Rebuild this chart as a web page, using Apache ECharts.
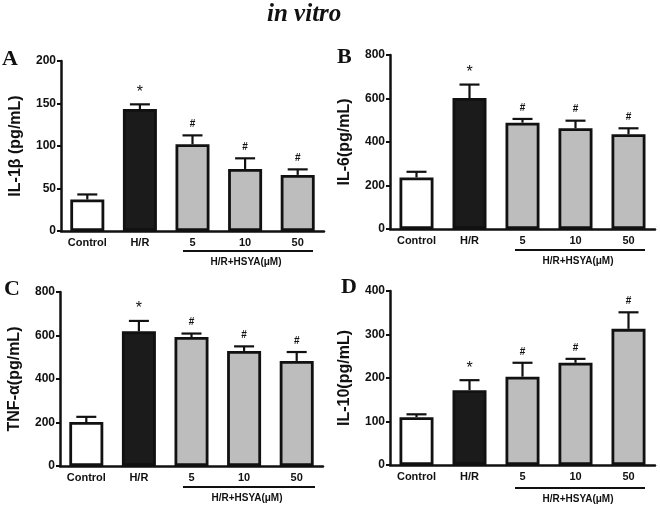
<!DOCTYPE html>
<html>
<head>
    <meta charset="utf-8">
    <title>in vitro</title>
    <script src="https://cdn.jsdelivr.net/npm/echarts@6/dist/echarts.min.js"></script>
    <style>
        html, body { margin: 0; padding: 0; background: #fff; }
        #main { width: 660px; height: 507px; }
    </style>
</head>
<body>
    <div id="main"></div>
    <script>
        // groups on the x axis
        var categories = ['Control', 'H/R', '5', '10', '50'];
        var marks = ['', '*', '#', '#', '#'];
        var barColors = ['#ffffff', '#1b1b1b', '#bdbdbd', '#bdbdbd', '#bdbdbd'];

        // A: IL-1beta (mean, error)
        var il1bMean = [37, 143.5, 102, 73, 66];
        var il1bErr = [6, 5.5, 10.5, 12.5, 6.5];
        // B: IL-6
        var il6Mean = [237, 602, 489, 463, 436];
        var il6Err = [26, 62, 17, 35, 27];
        // C: TNF-alpha
        var tnfMean = [202, 619, 593, 529, 483];
        var tnfErr = [24, 48, 16, 21, 41];
        // D: IL-10
        var il10Mean = [110, 172, 203, 235, 313];
        var il10Err = [6.5, 23, 32, 9, 38];

        var panels = [
            { name: 'IL-1β (pg/mL)', mean: il1bMean, err: il1bErr, max: 200, interval: 50 },
            { name: 'IL-6(pg/mL)', mean: il6Mean, err: il6Err, max: 800, interval: 200 },
            { name: 'TNF-α(pg/mL)', mean: tnfMean, err: tnfErr, max: 800, interval: 200 },
            { name: 'IL-10(pg/mL)', mean: il10Mean, err: il10Err, max: 400, interval: 100 }
        ];

        var grids = [
            { left: 61, top: 61, width: 263, height: 170 },
            { left: 390, top: 55, width: 265, height: 174 },
            { left: 60, top: 292, width: 263, height: 174 },
            { left: 390, top: 291, width: 265, height: 174 }
        ];

        var font = 'Arial, "Liberation Sans", sans-serif';
        var xAxes = [], yAxes = [], series = [];

        panels.forEach(function (p, k) {
            xAxes.push({
                type: 'category',
                gridIndex: k,
                data: categories,
                axisLine: { lineStyle: { color: '#111', width: 2.5 } },
                axisTick: { alignWithLabel: true, length: 4, lineStyle: { color: '#111', width: 2 } },
                axisLabel: { color: '#111', fontWeight: 'bold', fontSize: 11, fontFamily: font, margin: 6 }
            });
            yAxes.push({
                type: 'value',
                gridIndex: k,
                min: 0,
                max: p.max,
                interval: p.interval,
                name: p.name,
                nameLocation: 'middle',
                nameRotate: 90,
                nameGap: 37,
                nameTextStyle: { color: '#111', fontWeight: 'bold', fontSize: 16, fontFamily: font },
                splitLine: { show: false },
                axisLine: { show: true, lineStyle: { color: '#111', width: 2.5 } },
                axisTick: { show: true, length: 4, lineStyle: { color: '#111', width: 2 } },
                axisLabel: { color: '#111', fontWeight: 'bold', fontSize: 12, fontFamily: font, margin: 5 }
            });
            series.push({
                type: 'bar',
                xAxisIndex: k,
                yAxisIndex: k,
                barWidth: 34,
                data: p.mean.map(function (v, i) {
                    return { value: v, itemStyle: { color: barColors[i] } };
                }),
                itemStyle: { borderColor: '#111', borderWidth: 2.8 }
            });
            series.push({
                type: 'custom',
                xAxisIndex: k,
                yAxisIndex: k,
                z: 5,
                data: p.mean.map(function (v, i) { return [i, v, p.err[i]]; }),
                renderItem: function (params, api) {
                    var i = api.value(0);
                    var m = api.value(1);
                    var e = api.value(2);
                    var base = api.coord([i, m]);
                    var top = api.coord([i, m + e]);
                    var half = 10;
                    var st = { stroke: '#111', lineWidth: 2.2 };
                    var children = [
                        { type: 'line', shape: { x1: base[0], y1: base[1], x2: top[0], y2: top[1] }, style: st },
                        { type: 'line', shape: { x1: top[0] - half, y1: top[1], x2: top[0] + half, y2: top[1] }, style: st }
                    ];
                    var mk = marks[i];
                    if (mk) {
                        children.push({
                            type: 'text',
                            x: top[0],
                            y: top[1] - (mk === '*' ? 4 : 6),
                            style: {
                                text: mk,
                                fill: '#111',
                                align: 'center',
                                verticalAlign: 'bottom',
                                font: mk === '*' ? '16px ' + font : 'bold 10px ' + font
                            }
                        });
                    }
                    return { type: 'group', children: children };
                }
            });
        });

        // bracket under the HSYA groups, panel letters and title
        var brackets = [
            { x1: 183, x2: 313, y: 251, ty: 262 },
            { x1: 515, x2: 645, y: 250, ty: 261 },
            { x1: 183, x2: 315, y: 487, ty: 498 },
            { x1: 515, x2: 645, y: 488, ty: 499 }
        ];
        var letters = [['A', 2, 48], ['B', 337, 46], ['C', 4, 278], ['D', 341, 276]];
        var graphics = [{
            type: 'text', left: 267, top: 2,
            style: { text: 'in vitro', font: 'italic bold 25px "Liberation Serif", "Times New Roman", serif', fill: '#111' }
        }];
        brackets.forEach(function (b) {
            graphics.push({
                type: 'line', shape: { x1: b.x1, y1: b.y, x2: b.x2, y2: b.y },
                style: { stroke: '#111', lineWidth: 2 }
            });
            graphics.push({
                type: 'text', x: (b.x1 + b.x2) / 2 - 2, y: b.ty,
                style: { text: 'H/R+HSYA(μM)', fill: '#111', align: 'center', verticalAlign: 'middle', font: 'bold 10px ' + font }
            });
        });
        letters.forEach(function (l) {
            graphics.push({
                type: 'text', x: l[1], y: l[2],
                style: { text: l[0], fill: '#111', font: 'bold 22px "Liberation Serif", "Times New Roman", serif' }
            });
        });

        var myChart = echarts.init(document.getElementById('main'));
        var option = {
            backgroundColor: '#fff',
            animation: false,
            grid: grids,
            xAxis: xAxes,
            yAxis: yAxes,
            series: series,
            graphic: graphics
        };
        option && myChart.setOption(option);
    </script>
</body>
</html>
